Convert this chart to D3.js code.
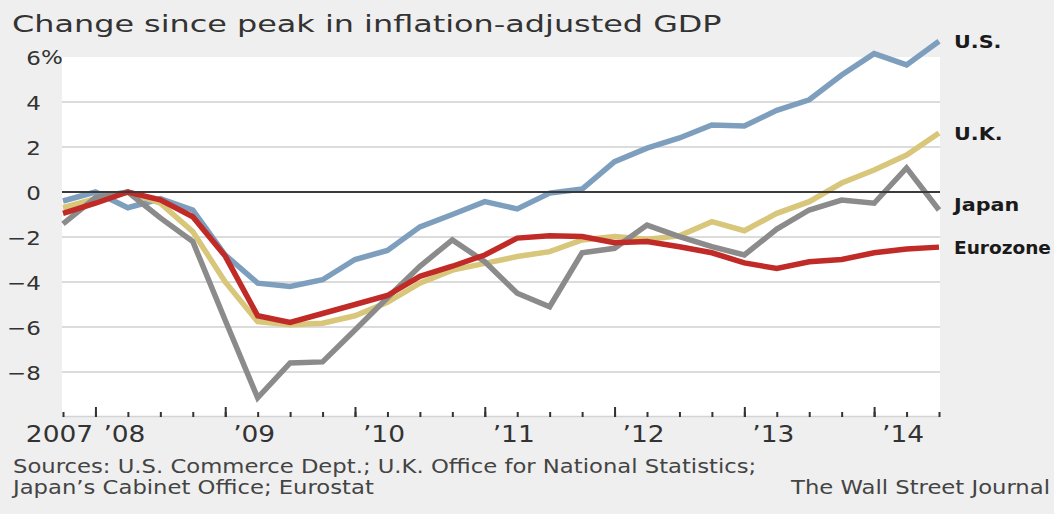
<!DOCTYPE html>
<html>
<head>
<meta charset="utf-8">
<script src="https://cdn.jsdelivr.net/npm/d3@7"></script>
<style>
body { margin: 0; background: #efefef; }
svg { display: block; font-family: "DejaVu Sans", sans-serif; }
.axis path.domain { display: none; }
</style>
</head>
<body>
<svg id="chart" width="1054" height="514"></svg>
<script>
// quarterly points, 2007 Q3 .. 2014 Q2
var quarters = [
    "2007Q3", "2007Q4",
    "2008Q1", "2008Q2", "2008Q3", "2008Q4",
    "2009Q1", "2009Q2", "2009Q3", "2009Q4",
    "2010Q1", "2010Q2", "2010Q3", "2010Q4",
    "2011Q1", "2011Q2", "2011Q3", "2011Q4",
    "2012Q1", "2012Q2", "2012Q3", "2012Q4",
    "2013Q1", "2013Q2", "2013Q3", "2013Q4",
    "2014Q1", "2014Q2"
];

var usValues = [-0.4, 0, -0.7, -0.3, -0.8, -2.8, -4.05, -4.2, -3.9, -3.0, -2.6, -1.55, -1.0, -0.43,
    -0.75, -0.05, 0.13, 1.35, 1.95, 2.4, 2.98, 2.93, 3.63, 4.1, 5.2, 6.15, 5.65, 6.7];
var ukValues = [-0.7, -0.3, 0, -0.5, -1.76, -4.0, -5.76, -5.9, -5.83, -5.5, -4.9, -4.05, -3.47, -3.17,
    -2.87, -2.65, -2.13, -1.98, -2.1, -1.95, -1.32, -1.72, -0.95, -0.43, 0.4, 0.98, 1.64, 2.62];
var japanValues = [-1.42, -0.25, 0, -1.15, -2.2, -5.7, -9.15, -7.6, -7.55, -6.13, -4.7, -3.3, -2.13, -3.1,
    -4.5, -5.1, -2.7, -2.5, -1.47, -1.98, -2.43, -2.8, -1.65, -0.8, -0.36, -0.5, 1.07, -0.8];
var euroValues = [-0.95, -0.5, 0, -0.35, -1.1, -2.85, -5.5, -5.8, -5.4, -5.0, -4.6, -3.75, -3.3, -2.8,
    -2.05, -1.95, -1.98, -2.25, -2.2, -2.43, -2.7, -3.15, -3.4, -3.1, -3.0, -2.7, -2.53, -2.45];

var seriesNames = ["U.S.", "U.K.", "Japan", "Eurozone"];
var seriesColors = ["#7d9fbd", "#d8c67a", "#8b8b8b", "#c12b27"];

var yTicks = [6, 4, 2, 0, -2, -4, -6, -8];
var xTickLabels = ["2007", "\u201908", "\u201909", "\u201910", "\u201911", "\u201912", "\u201913", "\u201914"];
var xLabelQuarters = ["2007Q3", "2008Q1", "2009Q1", "2010Q1", "2011Q1", "2012Q1", "2013Q1", "2014Q1"];

var width = 1054, height = 514;
var stretch = 1.15;   // the type in the original is set a bit wide

var svg = d3.select("#chart");
svg.append("rect").attr("width", width).attr("height", height).attr("fill", "#efefef");

var x = d3.scalePoint().domain(quarters).range([63, 939]);
var y = d3.scaleLinear().domain([-8, 6]).range([372, 57]);
var plotLeft = 62, plotRight = 940, plotBottom = 416;

// white plot panel
svg.append("rect")
    .attr("x", plotLeft).attr("y", y(6))
    .attr("width", plotRight - plotLeft).attr("height", plotBottom - y(6))
    .attr("fill", "#ffffff");

// gridlines
svg.append("g").selectAll("line")
    .data(yTicks.filter(function(d) { return d !== 0 && d !== 6; }))
    .enter().append("line")
    .attr("x1", plotLeft).attr("x2", plotRight)
    .attr("y1", function(d) { return y(d); })
    .attr("y2", function(d) { return y(d); })
    .attr("stroke", "#dcdcdc").attr("stroke-width", 2);

// baseline at bottom of panel
svg.append("line")
    .attr("x1", plotLeft).attr("x2", plotRight)
    .attr("y1", plotBottom + 0.5).attr("y2", plotBottom + 0.5)
    .attr("stroke", "#d4d4d4").attr("stroke-width", 1.5);

// y labels: digits right aligned, % hangs
var yAxis = svg.append("g")
    .attr("class", "axis")
    .attr("transform", "translate(41,0)")
    .call(d3.axisLeft(y).tickValues(yTicks).tickSize(0).tickPadding(0)
        .tickFormat(function(d) { return d < 0 ? "\u2212" + (-d) : d; }));
yAxis.selectAll("line").remove();
yAxis.selectAll("text")
    .attr("x", 0).attr("dy", "0.36em")
    .attr("font-size", 20)
    .attr("font-family", "DejaVu Sans")
    .attr("fill", "#333")
    .attr("transform", "scale(" + stretch + ",1)");
svg.append("text")
    .attr("transform", "translate(41," + y(6) + ") scale(" + stretch + ",1)")
    .attr("dy", "0.36em")
    .attr("font-size", 20)
    .attr("fill", "#333")
    .text("%");

// lines
var line = d3.line()
    .x(function(d, i) { return x(quarters[i]); })
    .y(function(d) { return y(d); });

var allSeries = [usValues, ukValues, japanValues, euroValues];
svg.append("g").selectAll("path")
    .data(allSeries)
    .enter().append("path")
    .attr("d", line)
    .attr("fill", "none")
    .attr("stroke", function(d, i) { return seriesColors[i]; })
    .attr("stroke-width", 5.5)
    .attr("stroke-linejoin", "miter");

// zero line
svg.append("line")
    .attr("x1", plotLeft).attr("x2", plotRight)
    .attr("y1", y(0)).attr("y2", y(0))
    .attr("stroke", "#3a3a3a").attr("stroke-width", 1.8);

// quarter ticks
svg.append("g")
    .attr("class", "axis")
    .attr("transform", "translate(0," + (plotBottom + 1) + ")")
    .call(d3.axisBottom(x).tickValues(quarters).tickSizeInner(-5).tickSizeOuter(0).tickFormat(""));
svg.append("g")
    .attr("class", "axis")
    .attr("transform", "translate(0," + (plotBottom + 1) + ")")
    .call(d3.axisBottom(x)
        .tickValues(quarters.filter(function(q) { return q.slice(-2) === "Q4"; }))
        .tickSizeInner(-10).tickSizeOuter(0).tickFormat(""));
svg.selectAll(".axis .tick line")
    .attr("stroke", "#333").attr("stroke-width", 2);

// year labels
var labelAxis = svg.append("g")
    .attr("class", "axis")
    .attr("transform", "translate(0,442)")
    .call(d3.axisBottom(x).tickValues(xLabelQuarters).tickSize(0)
        .tickFormat(function(d, i) { return xTickLabels[i]; }));
labelAxis.selectAll("line").remove();
labelAxis.selectAll("text")
    .attr("y", 0).attr("dy", 0)
    .attr("font-size", 23)
    .attr("font-family", "DejaVu Sans")
    .attr("fill", "#333")
    .attr("transform", "translate(-4,0) scale(" + stretch + ",1)");

// series labels at the right end, squeezed if they would run off the page
var labelNudge = { "Japan": -5 };
var labelX = 954, rightLimit = width - 3;
svg.append("g").selectAll("text")
    .data(allSeries)
    .enter().append("text")
    .attr("dy", "0.36em")
    .attr("font-size", 18)
    .attr("font-weight", "bold")
    .attr("fill", "#1a1a1a")
    .text(function(d, i) { return seriesNames[i]; })
    .attr("transform", function(d, i) {
        var yy = y(d[d.length - 1]) + (labelNudge[seriesNames[i]] || 0);
        var w = this.getComputedTextLength();
        var sx = Math.min(stretch, (rightLimit - labelX) / w);
        return "translate(" + labelX + "," + yy + ") scale(" + sx + ",1)";
    });

// title and notes, fitted to the widths in the original
function fitText(sel, tx, ty, target) {
    var w = sel.node().getComputedTextLength();
    var sx = target / w;
    sel.attr("transform", "translate(" + tx + "," + ty + ") scale(" + sx + ",1)");
    return sx;
}

var title = svg.append("text")
    .attr("font-size", 23).attr("fill", "#333")
    .text("Change since peak in inflation-adjusted GDP");
fitText(title, 12, 32, 710);

var src1 = svg.append("text")
    .attr("font-size", 19.5).attr("fill", "#444")
    .text("Sources: U.S. Commerce Dept.; U.K. Office for National Statistics;");
var noteScale = fitText(src1, 13, 473, 744);

svg.append("text")
    .attr("font-size", 19.5).attr("fill", "#444")
    .attr("transform", "translate(13,494) scale(" + noteScale + ",1)")
    .text("Japan\u2019s Cabinet Office; Eurostat");

// credit sits at the right edge
var credit = svg.append("text")
    .attr("font-size", 19.5).attr("fill", "#444")
    .attr("text-anchor", "end")
    .text("The Wall Street Journal");
credit.attr("transform", "translate(" + (width - 4) + ",494) scale(" + noteScale + ",1)");
</script>
</body>
</html>
